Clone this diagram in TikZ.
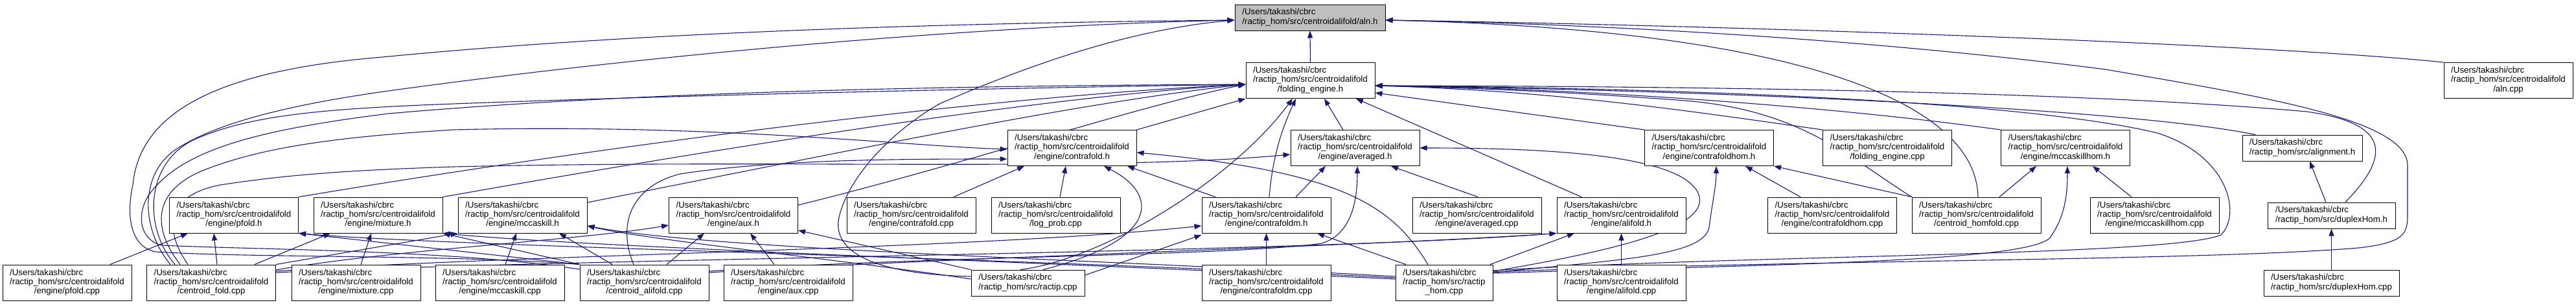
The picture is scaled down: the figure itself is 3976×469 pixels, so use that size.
\documentclass[tikz,border=0pt]{standalone}
\usepackage{fontspec}
\setmainfont{Liberation Sans}
\usetikzlibrary{arrows.meta,backgrounds}
\definecolor{edgecol}{RGB}{25,25,112}
\definecolor{alngray}{RGB}{191,191,191}
\newcommand{\thr}[3]{\begin{tabular}{@{}l@{}}#1\\#2\\\multicolumn{1}{@{}c@{}}{#3}\end{tabular}}
\newcommand{\two}[2]{\begin{tabular}{@{}l@{}}#1\\#2\end{tabular}}
\newcommand{\U}{/Users/takashi/cbrc}
\newcommand{\R}{/ractip\_hom/src/centroidalifold}
\begin{document}
\begin{tikzpicture}[x=1pt,y=-1pt,
  box/.style={draw=black,line width=1pt,fill=white,inner sep=0pt,minimum width=199pt,minimum height=55pt,font=\fontsize{13.3}{14.3}\selectfont},
  e/.style={draw=edgecol,line width=1.1pt,-{Triangle[length=11pt,width=8pt]}}]
\useasboundingbox (0,0) rectangle (3976,469);
% row 0-1
\node[box,minimum width=232pt,minimum height=40pt,fill=alngray] (alnh) at (2022,27) {\two{\U}{/ractip\_hom/src/centroidalifold/aln.h}};
\node[box] (fe) at (2022.5,124) {\thr{\U}{\R}{/folding\_engine.h}};
\node[box] (alncpp) at (3871.5,124) {\thr{\U}{\R}{/aln.cpp}};
% row 2
\node[box] (cfh) at (1654.5,228) {\thr{\U}{\R}{/engine/contrafold.h}};
\node[box] (avh) at (2091.5,228) {\thr{\U}{\R}{/engine/averaged.h}};
\node[box] (cfhomh) at (2638,228) {\thr{\U}{\R}{/engine/contrafoldhom.h}};
\node[box] (fecpp) at (2913,228) {\thr{\U}{\R}{/folding\_engine.cpp}};
\node[box] (mchomh) at (3188,228) {\thr{\U}{\R}{/engine/mccaskillhom.h}};
\node[box,minimum width=185pt,minimum height=40pt] (alignh) at (3553.5,228) {\two{\U}{/ractip\_hom/src/alignment.h}};
% row 3
\node[box] (pfh) at (361,331.5) {\thr{\U}{\R}{/engine/pfold.h}};
\node[box] (mixh) at (583.5,331.5) {\thr{\U}{\R}{/engine/mixture.h}};
\node[box] (mch) at (806.5,331.5) {\thr{\U}{\R}{/engine/mccaskill.h}};
\node[box] (auxh) at (1132,331.5) {\thr{\U}{\R}{/engine/aux.h}};
\node[box] (cfcpp) at (1406.5,331.5) {\thr{\U}{\R}{/engine/contrafold.cpp}};
\node[box] (logp) at (1629.5,331.5) {\thr{\U}{\R}{/log\_prob.cpp}};
\node[box] (cfmh) at (1954.5,331.5) {\thr{\U}{\R}{/engine/contrafoldm.h}};
\node[box] (avcpp) at (2279.5,331.5) {\thr{\U}{\R}{/engine/averaged.cpp}};
\node[box] (alifh) at (2502.5,331.5) {\thr{\U}{\R}{/engine/alifold.h}};
\node[box] (cfhomcpp) at (2828,331.5) {\thr{\U}{\R}{/engine/contrafoldhom.cpp}};
\node[box] (chom) at (3050.5,331.5) {\thr{\U}{\R}{/centroid\_homfold.cpp}};
\node[box] (mchomcpp) at (3325.5,331.5) {\thr{\U}{\R}{/engine/mccaskillhom.cpp}};
\node[box,minimum width=197pt,minimum height=40pt] (duph) at (3598.5,332) {\two{\U}{/ractip\_hom/src/duplexHom.h}};
% row 4
\node[box] (pfcpp) at (103.5,435.5) {\thr{\U}{\R}{/engine/pfold.cpp}};
\node[box] (cfold) at (326,435.5) {\thr{\U}{\R}{/centroid\_fold.cpp}};
\node[box] (mixcpp) at (549.5,435.5) {\thr{\U}{\R}{/engine/mixture.cpp}};
\node[box] (mccpp) at (771.5,435.5) {\thr{\U}{\R}{/engine/mccaskill.cpp}};
\node[box] (cali) at (994.5,435.5) {\thr{\U}{\R}{/centroid\_alifold.cpp}};
\node[box] (auxcpp) at (1216.5,435.5) {\thr{\U}{\R}{/engine/aux.cpp}};
\node[box,minimum width=175pt,minimum height=40pt] (ractip) at (1586.5,436) {\two{\U}{/ractip\_hom/src/ractip.cpp}};
\node[box] (cfmcpp) at (1954.5,435.5) {\thr{\U}{\R}{/engine/contrafoldm.cpp}};
\node[box,minimum width=150pt] (rhom) at (2229,435.5) {\thr{\U}{/ractip\_hom/src/ractip}{\_hom.cpp}};
\node[box] (alifcpp) at (2502.5,435.5) {\thr{\U}{\R}{/engine/alifold.cpp}};
\node[box,minimum width=209pt,minimum height=40pt] (dupcpp) at (3598.5,436) {\two{\U}{/ractip\_hom/src/duplexHom.cpp}};
\begin{scope}[on background layer]
\fill[white] (0,0) rectangle (3976,469);
% ---- edges into aln.h
\draw[e] (fe.north) -- (alnh.south);
\draw[e] (alncpp.north west) .. controls (3500,68) and (2700,40) .. (alnh.east |- 0,31);
\draw[e] (3053,0 |- chom.north) .. controls (3050,150) and (2750,45) .. (alnh.east |- 0,31);
\draw[e] (rhom.east |- 0,419) .. controls (2800,400) and (3400,402) .. (3640,382) .. controls (3712,374) and (3716,360) .. (3716,330) -- (3716,255) .. controls (3716,185) and (3500,150) .. (3250,107) .. controls (2900,62) and (2500,38) .. (alnh.east |- 0,31);
\draw[e] (263,0 |- cfold.north) .. controls (215,350) and (215,260) .. (280,225) .. controls (330,195) and (420,165) .. (600,140) .. controls (1000,85) and (1500,40) .. (alnh.west |- 0,31);
\draw[e] (cali.north west) .. controls (700,392) and (400,398) .. (240,388) .. controls (200,380) and (195,330) .. (205,285) .. controls (215,180) and (320,110) .. (590,88) .. controls (1000,48) and (1500,35) .. (alnh.west |- 0,31);
\draw[e] (ractip.west |- 0,426) .. controls (1330,422) and (1285,380) .. (1295,335) .. controls (1310,270) and (1380,200) .. (1450,160) .. controls (1600,95) and (1750,45) .. (alnh.west |- 0,31);
% ---- edges into folding_engine.h
\draw[e] (270,0 |- cfold.north) .. controls (220,350) and (225,250) .. (300,215) .. controls (380,180) and (480,168) .. (700,160) .. controls (1100,145) and (1600,135) .. (fe.west |- 0,130);
\draw[e] (cali.west |- 0,415) .. controls (700,385) and (400,385) .. (250,378) .. controls (215,370) and (210,330) .. (230,300) .. controls (280,230) and (400,200) .. (600,175) .. controls (1000,140) and (1500,132) .. (fe.west |- 0,130);
\draw[e] (pfh.north east) .. controls (900,230) and (1500,150) .. (fe.west |- 0,130);
\draw[e] (mixh.north east) .. controls (1100,230) and (1600,150) .. (fe.west |- 0,130);
\draw[e] (mch.east |- 0,312) .. controls (1300,235) and (1650,160) .. (fe.west |- 0,130);
\draw[e] (auxh.east |- 0,316) .. controls (1500,250) and (1750,165) .. (fe.west |- 0,130);
\draw[e] (cfh.north east) -- (fe.south west);
\draw[e] (1575,0 |- ractip.north) .. controls (1700,400) and (1900,280) .. (1995,0 |- fe.south);
\draw[e] (1959,0 |- cfmh.north) .. controls (1965,230) and (1985,185) .. (2000,0 |- fe.south);
\draw[e] (2073,0 |- avh.north) -- (2044,0 |- fe.south);
\draw[e] (2441,0 |- alifh.north) -- (2093,0 |- fe.south);
\draw[e] (cfhomh.north west) -- (fe.east |- 0,143);
\draw[e] (mchomh.north west) .. controls (2800,160) and (2400,135) .. (fe.east |- 0,132);
\draw[e] (fecpp.north west) .. controls (2600,170) and (2400,140) .. (fe.east |- 0,132);
\draw[e] (3481,0 |- alignh.north) .. controls (3300,170) and (2700,140) .. (fe.east |- 0,132);
\draw[e] (3620,0 |- duph.north) .. controls (3690,240) and (3690,190) .. (3560,172) .. controls (3200,140) and (2600,133) .. (fe.east |- 0,132);
\draw[e] (chom.north west) .. controls (2850,240) and (2780,170) .. (2600,155) .. controls (2400,140) and (2250,135) .. (fe.east |- 0,132);
\draw[e] (rhom.east |- 0,417) .. controls (2700,392) and (3350,395) .. (3428,362) .. controls (3460,330) and (3440,240) .. (3330,205) .. controls (3100,150) and (2500,135) .. (fe.east |- 0,132);
% ---- contrafold.h
\draw[e] (1472,0 |- cfcpp.north) -- (1581,0 |- cfh.south);
\draw[e] (1636,0 |- logp.north) -- (1645,0 |- cfh.south);
\draw[e] (1610,0 |- ractip.north) .. controls (1790,370) and (1790,300) .. (1704,0 |- cfh.south);
\draw[e] (1876,0 |- cfmh.north) -- (1740,0 |- cfh.south);
\draw[e] (278,0 |- cfold.north) .. controls (230,345) and (240,290) .. (320,260) .. controls (400,230) and (500,212) .. (700,200) .. controls (1100,190) and (1400,225) .. (cfh.west |- 0,230);
\draw[e] (978,0 |- cali.north) .. controls (950,340) and (980,285) .. (1050,268) .. controls (1200,245) and (1400,245) .. (cfh.west |- 0,245);
\draw[e] (2204,0 |- rhom.north) .. controls (2150,320) and (2080,265) .. (cfh.east |- 0,235);
% ---- averaged.h
\draw[e] (2281,0 |- avcpp.north) -- (2147,0 |- avh.south);
\draw[e] (2000,0 |- cfmh.north) -- (2046,0 |- avh.south);
\draw[e] (290,0 |- cfold.north) .. controls (250,350) and (260,300) .. (340,285) .. controls (450,268) and (550,262) .. (700,257) .. controls (1200,245) and (1700,265) .. (avh.west |- 0,238);
\draw[e] (cali.east |- 0,418) .. controls (1400,395) and (1900,395) .. (2040,375) .. controls (2090,360) and (2095,300) .. (2095,0 |- avh.south);
\draw[e] (rhom.east |- 0,418) .. controls (2500,385) and (2640,350) .. (2622,300) .. controls (2600,240) and (2400,228) .. (avh.east);
% ---- contrafoldm.h
\draw[e] (cfmcpp.north) -- (cfmh.south);
\draw[e] (2170,0 |- rhom.north) -- (2033,0 |- cfmh.south);
\draw[e] (cfold.east |- 0,418) .. controls (800,392) and (1500,385) .. (cfmh.west |- 0,348);
\draw[e] (ractip.east |- 0,424) -- (cfmh.west |- 0,362);
% ---- alifold.h
\draw[e] (alifcpp.north) -- (alifh.south);
\draw[e] (2300,0 |- rhom.north) -- (2430,0 |- alifh.south);
\draw[e] (cfold.east |- 0,420) .. controls (900,398) and (2000,390) .. (alifh.south west);
\draw[e] (cali.east |- 0,420) .. controls (1500,395) and (2100,380) .. (alifh.south west);
% ---- pfold.h, mixture.h, mccaskill.h, aux.h
\draw[e] (170,0 |- pfcpp.north) -- (290,0 |- pfh.south);
\draw[e] (335,0 |- cfold.north) -- (330,0 |- pfh.south);
\draw[e] (cali.north west) -- (pfh.south east);
\draw[e] (rhom.west |- 0,428) .. controls (1500,395) and (700,380) .. (pfh.south east);
\draw[e] (557,0 |- mixcpp.north) -- (573,0 |- mixh.south);
\draw[e] (393,0 |- cfold.north) -- (510,0 |- mixh.south);
\draw[e] (cali.north west) -- (mixh.south east);
\draw[e] (rhom.west |- 0,430) .. controls (1500,400) and (900,380) .. (mixh.south east);
\draw[e] (780,0 |- mccpp.north) -- (797,0 |- mch.south);
\draw[e] (945,0 |- cali.north) -- (863,0 |- mch.south);
\draw[e] (cfold.north east) -- (mch.south west);
\draw[e] (ractip.west |- 0,430) .. controls (1300,400) and (1000,370) .. (mch.east |- 0,348);
\draw[e] (rhom.west |- 0,426) .. controls (1700,400) and (1100,385) .. (mch.east |- 0,348);
\draw[e] (1195,0 |- auxcpp.north) -- (1158,0 |- auxh.south);
\draw[e] (1029,0 |- cali.north) -- (1087,0 |- auxh.south);
\draw[e] (cfold.east |- 0,416) .. controls (600,385) and (900,370) .. (auxh.west |- 0,347);
\draw[e] (ractip.north west) -- (auxh.east |- 0,355);
% ---- hom side
\draw[e] (2779,0 |- cfhomcpp.north) -- (2694,0 |- cfhomh.south);
\draw[e] (chom.north west) -- (cfhomh.south east);
\draw[e] (rhom.east |- 0,420) .. controls (2500,400) and (2630,395) .. (2638,350) .. controls (2644,305) and (2649,285) .. (2649,0 |- cfhomh.south);
\draw[e] (3290,0 |- mchomcpp.north) -- (3230,0 |- mchomh.south);
\draw[e] (3086,0 |- chom.north) -- (3143,0 |- mchomh.south);
\draw[e] (rhom.east |- 0,421) .. controls (2700,408) and (3140,405) .. (3165,365) .. controls (3190,330) and (3191,290) .. (3191,0 |- mchomh.south);
\draw[e] (3590,0 |- duph.north) -- (3565,0 |- alignh.south);
\draw[e] (dupcpp.north) -- (duph.south);
\end{scope}
\end{tikzpicture}
\end{document}
